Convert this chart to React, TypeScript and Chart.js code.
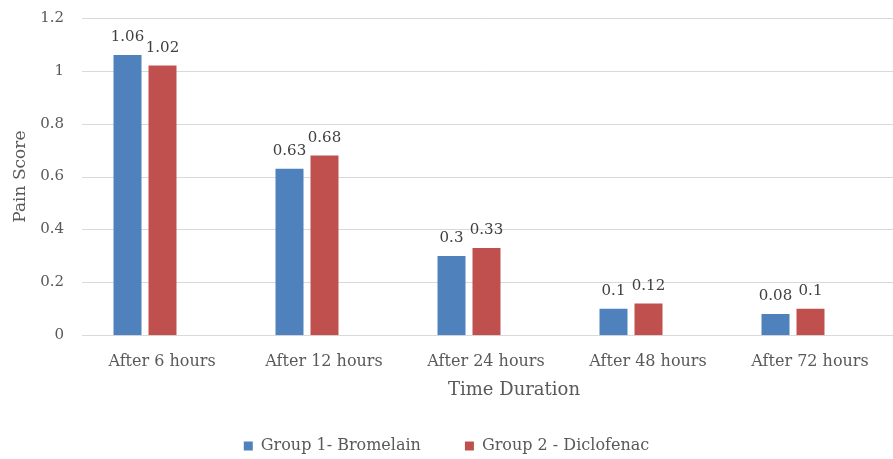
import React, { useEffect, useRef } from "react";
import { Chart, registerables } from "chart.js";

Chart.register(...registerables);

const categories = ["After 6 hours", "After 12 hours", "After 24 hours", "After 48 hours", "After 72 hours"];
const bromelain = [1.06, 0.63, 0.3, 0.1, 0.08];
const diclofenac = [1.02, 0.68, 0.33, 0.12, 0.1];
const seriesNames = ["Group 1- Bromelain", "Group 2 - Diclofenac"];
const yTicks = [0, 0.2, 0.4, 0.6, 0.8, 1, 1.2];
const xTitle = "Time Duration";
const yTitle = "Pain Score";

const FONT = "'DejaVu Serif', serif";
const TEXT = "#595959";

const gridPlugin = {
  id: "customGrid",
  beforeDatasetsDraw(chart: any) {
    const ctx = chart.ctx;
    const y = chart.scales.y;
    ctx.save();
    ctx.strokeStyle = "#D9D9D9";
    ctx.lineWidth = 1;
    y.ticks.forEach((t: any) => {
      const py = Math.round(y.getPixelForValue(t.value)) + 0.5;
      ctx.beginPath();
      ctx.moveTo(82, py);
      ctx.lineTo(chart.width, py);
      ctx.stroke();
    });
    ctx.restore();
  },
};

const labelPlugin = {
  id: "valueLabels",
  afterDatasetsDraw(chart: any) {
    const ctx = chart.ctx;
    ctx.save();
    ctx.font = `15px ${FONT}`;
    ctx.fillStyle = "#404040";
    ctx.textAlign = "center";
    ctx.textBaseline = "bottom";
    chart.data.datasets.forEach((ds: any, di: number) => {
      const meta = chart.getDatasetMeta(di);
      meta.data.forEach((bar: any, i: number) => {
        ctx.fillText(String(ds.data[i]), bar.x, bar.y - 10);
      });
    });
    ctx.restore();
  },
};

const xTitlePlugin = {
  id: "xTitle",
  afterDraw(chart: any) {
    const ctx = chart.ctx;
    const x = chart.scales.x;
    ctx.save();
    ctx.font = `18px ${FONT}`;
    ctx.fillStyle = TEXT;
    ctx.textAlign = "center";
    ctx.textBaseline = "middle";
    ctx.fillText(xTitle, (x.left + x.right) / 2 + 45, x.top + 55);
    ctx.restore();
  },
};

export default function App() {
  const ref = useRef<HTMLCanvasElement>(null);
  useEffect(() => {
    document.body.style.margin = "0";
    const chart = new Chart(ref.current!, {
      type: "bar",
      data: {
        labels: categories,
        datasets: [
          { label: seriesNames[0], data: bromelain, backgroundColor: "#4F81BD", categoryPercentage: 0.432, barPercentage: 0.8 },
          { label: seriesNames[1], data: diclofenac, backgroundColor: "#C0504D", categoryPercentage: 0.432, barPercentage: 0.8 },
        ],
      },
      options: {
        animation: false,
        responsive: false,
        maintainAspectRatio: false,
        layout: { padding: { top: 18, right: 0, left: 0, bottom: -5 } },
        plugins: {
          legend: {
            position: "bottom",
            labels: {
              font: { family: FONT, size: 16 },
              color: TEXT,
              boxWidth: 9,
              boxHeight: 9,
              padding: 44,
            },
          },
          tooltip: { enabled: false },
        },
        scales: {
          x: {
            grid: { display: false },
            border: { display: false },
            ticks: { font: { family: FONT, size: 16 }, color: TEXT, padding: 9, labelOffset: 17 },
            title: { display: true, text: xTitle, font: { family: FONT, size: 18 }, color: "rgba(0,0,0,0)", padding: { top: -8, bottom: 0 } },
          },
          y: {
            min: 0,
            max: 1.2,
            afterBuildTicks(scale: any) {
              scale.ticks = yTicks.map((v) => ({ value: v }));
            },
            afterFit(scale: any) {
              scale.width = 64;
            },
            grid: { display: false, drawTicks: false },
            border: { display: false },
            ticks: { font: { family: FONT, size: 15 }, color: TEXT, padding: 0, callback: (v: any) => String(v) },
            title: { display: true, text: yTitle, font: { family: FONT, size: 17 }, color: TEXT, padding: { top: 10, bottom: 0 } },
          },
          yRight: {
            type: "linear",
            position: "right",
            min: 0,
            max: 1.2,
            grid: { display: false, drawTicks: false },
            border: { display: false },
            ticks: { display: false },
            afterFit(scale: any) {
              scale.width = 19;
            },
          },
        },
      },
      plugins: [gridPlugin, labelPlugin, xTitlePlugin],
    });
    return () => chart.destroy();
  }, []);
  return <canvas ref={ref} width={893} height={459} style={{ display: "block" }} />;
}
